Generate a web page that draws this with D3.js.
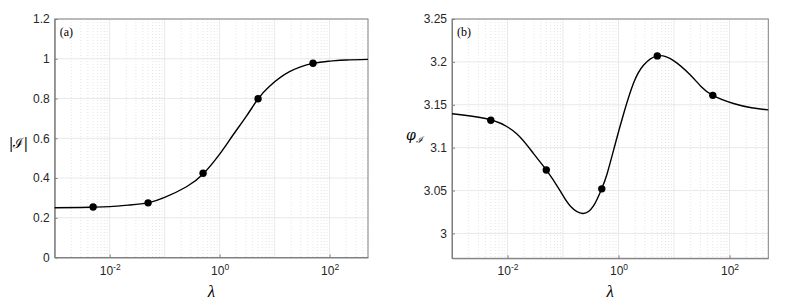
<!DOCTYPE html>
<html>
<head>
<meta charset="utf-8">
<script src="https://cdn.jsdelivr.net/npm/d3@7"></script>
<style>
  body { margin: 0; background: #fff; }
  svg { display: block; }
  .tick text { font-family: "Liberation Sans", Arial, sans-serif; font-size: 12px; fill: #262626; }
</style>
</head>
<body>
<div id="chart"></div>
<script>
// Data.
const lambdaA = [0.001, 0.003, 0.005, 0.01, 0.023, 0.05, 0.1, 0.25, 0.5, 1, 1.74, 3.05, 5, 8.1, 18.7, 50, 100, 200, 500];
const magA = [0.250, 0.2515, 0.253, 0.256, 0.264, 0.275, 0.302, 0.356, 0.42, 0.52, 0.615, 0.71, 0.798, 0.862, 0.935, 0.977, 0.988, 0.994, 0.997];

const lambdaB = [0.001, 0.005, 0.0148, 0.0295, 0.05, 0.089, 0.135, 0.228, 0.354, 0.49, 0.62, 0.87, 1.23, 1.86, 2.82, 5, 9.8, 19.5, 30, 50, 118, 250, 500];
const phiB = [3.1395, 3.1325, 3.116, 3.093, 3.074, 3.0495, 3.032, 3.0233, 3.032, 3.051, 3.069, 3.104, 3.139, 3.175, 3.196, 3.207, 3.2015, 3.185, 3.172, 3.161, 3.1515, 3.1465, 3.144];

const markerLambda = [0.005, 0.05, 0.5, 5, 50];
const markerMag = [0.254, 0.275, 0.424, 0.799, 0.977];
const markerPhi = [3.132, 3.074, 3.052, 3.207, 3.161];

const xTicks = [1e-2, 1, 1e2];
const xTickExp = ["-2", "0", "2"];
const yTicksA = [0, 0.2, 0.4, 0.6, 0.8, 1, 1.2];
const yTicksB = [3, 3.05, 3.1, 3.15, 3.2, 3.25];

const svg = d3.select("#chart").append("svg")
  .attr("width", 789).attr("height", 304);

function panel(opts) {
  const { left, right, top, bottom, xs, ys, marksX, marksY, yDomain, yTicks, label, yLabel } = opts;
  const w = right - left, h = bottom - top;
  const g = svg.append("g").attr("transform", `translate(${left},${top})`);

  const x = d3.scaleLog().domain([1e-3, 500]).range([0, w]);
  const y = d3.scaleLinear().domain(yDomain).range([h, 0]);

  // minor grid (dotted)
  const minor = [];
  for (let e = -3; e <= 2; e++) {
    for (let k = 2; k <= 9; k++) {
      const v = k * Math.pow(10, e);
      if (v <= 500) minor.push(v);
    }
  }
  g.append("g").selectAll("line").data(minor).join("line")
    .attr("x1", d => x(d)).attr("x2", d => x(d))
    .attr("y1", 0).attr("y2", h)
    .attr("stroke", "#d4d4d4").attr("stroke-width", 0.6)
    .attr("stroke-dasharray", "1,2");

  // major grid
  g.append("g").selectAll("line").data([1e-3, 1e-2, 1e-1, 1, 10, 100]).join("line")
    .attr("x1", d => x(d)).attr("x2", d => x(d))
    .attr("y1", 0).attr("y2", h)
    .attr("stroke", "#e3e3e3").attr("stroke-width", 0.8);
  g.append("g").selectAll("line").data(yTicks).join("line")
    .attr("x1", 0).attr("x2", w)
    .attr("y1", d => y(d)).attr("y2", d => y(d))
    .attr("stroke", "#e3e3e3").attr("stroke-width", 0.8);

  // axes
  const xAxis = d3.axisBottom(x).tickValues(xTicks).tickSizeInner(-3).tickSizeOuter(0)
    .tickPadding(8).tickFormat("");
  const xa = g.append("g").attr("class", "x axis").attr("transform", `translate(0,${h})`).call(xAxis);
  xa.select(".domain").attr("stroke", "#808080");
  xa.selectAll(".tick line").attr("stroke", "#808080");
  xa.selectAll(".tick").append("text")
    .attr("y", 17).attr("text-anchor", "middle")
    .each(function (d, i) {
      const t = d3.select(this);
      t.append("tspan").text("10");
      t.append("tspan").attr("dy", -5).style("font-size", "8.5px").text(xTickExp[i]);
    });

  const yAxis = d3.axisLeft(y).tickValues(yTicks).tickSizeInner(-3).tickSizeOuter(0)
    .tickPadding(5).tickFormat(d => d3.format("~g")(d));
  const ya = g.append("g").attr("class", "y axis").call(yAxis);
  ya.select(".domain").attr("stroke", "#808080");
  ya.selectAll(".tick line").attr("stroke", "#808080");

  // box
  g.append("rect").attr("width", w).attr("height", h)
    .attr("fill", "none").attr("stroke", "#808080").attr("stroke-width", 1);

  // curve
  const line = d3.line()
    .x((d, i) => x(xs[i])).y((d, i) => y(ys[i]))
    .curve(d3.curveNatural);
  g.append("path").datum(xs).attr("d", line)
    .attr("fill", "none").attr("stroke", "#000").attr("stroke-width", 1.4);

  // markers
  g.append("g").selectAll("circle").data(marksX).join("circle")
    .attr("cx", d => x(d)).attr("cy", (d, i) => y(marksY[i]))
    .attr("r", 3.7).attr("fill", "#000");

  // panel label
  g.append("text").attr("x", 5).attr("y", 17)
    .attr("font-family", "Liberation Serif, serif").attr("font-size", 12)
    .attr("fill", "#000").text(label);

  // x label
  g.append("text").attr("x", w / 2).attr("y", h + 39).attr("text-anchor", "middle")
    .attr("font-family", "Liberation Serif, serif").attr("font-style", "italic")
    .attr("font-size", 17).attr("fill", "#000").text("λ");

  yLabel(g, h);
}

panel({
  left: 54.7, right: 368, top: 19, bottom: 257.5,
  xs: lambdaA, ys: magA, marksX: markerLambda, marksY: markerMag,
  yDomain: [0, 1.2], yTicks: yTicksA, label: "(a)",
  yLabel: (g, h) => {
    g.append("text").attr("x", -46).attr("y", 129)
      .attr("font-family", "DejaVu Serif, serif").attr("font-size", 14).attr("fill", "#000")
      .text("|ℐ|");
  }
});

panel({
  left: 452, right: 768.3, top: 19, bottom: 258.3,
  xs: lambdaB, ys: phiB, marksX: markerLambda, marksY: markerPhi,
  yDomain: [2.971, 3.25], yTicks: yTicksB, label: "(b)",
  yLabel: (g, h) => {
    const t = g.append("text").attr("x", -46).attr("y", 121)
      .attr("font-family", "DejaVu Serif, serif").attr("font-style", "italic")
      .attr("font-size", 14).attr("fill", "#000");
    t.append("tspan").text("φ");
    t.append("tspan").attr("dy", 3).style("font-size", "9px").text("ℐ");
  }
});
</script>
</body>
</html>
